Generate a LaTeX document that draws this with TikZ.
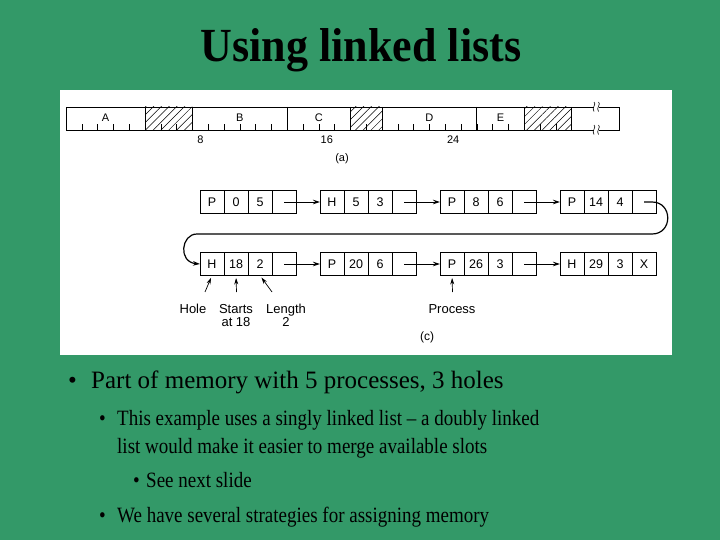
\documentclass[tikz,border=0pt]{standalone}
\usepackage{fontspec}
\usepackage{graphicx}
\setmainfont{Liberation Serif}
\setsansfont{Liberation Sans}
\usetikzlibrary{arrows.meta,patterns.meta}
\definecolor{slidegreen}{RGB}{51,153,104}
\newcommand{\tallsub}[1]{\scalebox{1}[1.15]{\fontsize{19}{19}\selectfont #1}}
\begin{document}
\begin{tikzpicture}[x=1pt,y=-1pt,
  cell/.style={draw, line width=0.9pt, minimum width=24pt, minimum height=23pt, inner sep=0pt, outer sep=0pt, font=\sffamily\fontsize{12.5}{12.5}\selectfont},
  link/.style={line width=0.9pt, -{Stealth[length=7pt,width=4.5pt]}},
  annot/.style={line width=0.7pt, -{Stealth[length=6.5pt,width=4pt]}},
  small/.style={font=\sffamily\fontsize{11}{11}\selectfont, inner sep=0pt},
  lbl/.style={font=\sffamily\fontsize{13}{13.5}\selectfont, inner sep=0pt, align=center},
  hatch/.style={pattern={Lines[angle=45,distance=5.5pt,line width=0.5pt]}},
  bodytext/.style={anchor=base west, inner sep=0pt}
]
\fill[slidegreen] (0,0) rectangle (720,540);
\useasboundingbox (0,0) rectangle (720,540);
\fill[white] (60,90) rectangle (672,355);

% title
\node[anchor=base, inner sep=0pt] (title) at (361,62) {\scalebox{1}[1.08]{\bfseries\fontsize{44}{44}\selectfont Using linked lists}};

% memory bar (a)
\def\u{15.8}
\foreach \s/\e in {5/8,18/20,29/32}{
  \fill[hatch] ({66+\s*\u},107) rectangle ({66+\e*\u},130);
}
\foreach \k in {1,...,31}{
  \draw[line width=0.6pt] ({66+\k*\u},130) -- ({66+\k*\u},124);
}
\draw[line width=0.9pt] (66,107) rectangle (619,130);
\foreach \b in {5,8,14,18,20,26,29,32}{
  \draw[line width=0.9pt] ({66+\b*\u},107) -- ({66+\b*\u},130);
}
\foreach \nm/\s/\e in {A/0/5,B/8/14,C/14/18,D/20/26,E/26/29}{
  \node[small] (seg\nm) at ({66+(\s+\e)/2*\u},117.5) {\nm};
}
\foreach \n in {8,16,24}{
  \node[small] (num\n) at ({66+\n*\u+8},139.5) {\n};
}
\node[small] (capa) at (342,159) {(a)};
% break marks
\foreach \yy in {107,130}{
  \fill[white] (593.5,{\yy-1}) rectangle (598.5,{\yy+1});
  \foreach \xx in {594,598.5}{
    \draw[line width=0.6pt] (\xx,{\yy-5}) .. controls ({\xx+3},{\yy-3}) and ({\xx-3},{\yy+1}) .. (\xx,{\yy+4.5});
  }
}

% linked list (c)
\foreach \row/\yy/\boxes in {1/202/{P/0/5/{}, H/5/3/{}, P/8/6/{}, P/14/4/{}}, 2/264/{H/18/2/{}, P/20/6/{}, P/26/3/{}, H/29/3/X}}{
  \foreach \ta/\tb/\tc/\td [count=\bi] in \boxes{
    \pgfmathsetmacro{\bx}{200+(\bi-1)*120}
    \node[cell] (r\row b\bi c1) at ({\bx+12},\yy) {\ta};
    \node[cell] (r\row b\bi c2) at ({\bx+36},\yy) {\tb};
    \node[cell] (r\row b\bi c3) at ({\bx+60},\yy) {\tc};
    \node[cell] (r\row b\bi c4) at ({\bx+84},\yy) {\td};
  }
}
\foreach \row in {1,2}{
  \foreach \a/\b in {1/2,2/3,3/4}{
    \draw[link] (r\row b\a c4.center) -- (r\row b\b c1.west);
  }
}
\draw[link, line width=1.2pt] (r1b4c4.center) -- (652,202) .. controls (673,202) and (673,234) .. (652,234)
  -- (197,234) .. controls (181,234) and (178,262) .. (r2b1c1.west);

% annotations
\node[lbl, anchor=base] (hole) at (193,313) {Hole};
\node[lbl, anchor=base] (starts) at (236,326.5) {Starts\\at 18};
\node[lbl, anchor=base] (length) at (286,326.5) {Length\\2};
\node[lbl, anchor=base] (process) at (452,313) {Process};
\node[small, font=\sffamily\fontsize{12}{12}\selectfont] (capc) at (427,337.5) {(c)};
\coordinate (holetail) at (205,292);
\coordinate (startstail) at (236.5,292);
\coordinate (lengthtail) at (272,292);
\coordinate (processtail) at (452.5,292);
\draw[annot, shorten >=2.5pt] (holetail) -- (r2b1c1.south);
\draw[annot, shorten >=2.5pt] (startstail) -- (r2b1c2.south);
\draw[annot, shorten >=2.5pt] (lengthtail) -- (r2b1c3.south);
\draw[annot, shorten >=2.5pt] (processtail) -- (r2b3c1.south);

% bullets
\node[bodytext, font=\fontsize{25}{25}\selectfont] (b1dot) at (68,388) {\textbullet};
\node[bodytext, font=\fontsize{25}{25}\selectfont] (b1) at (91,388) {Part of memory with 5 processes, 3 holes};
\node[bodytext] (b2dot) at (99,425) {\tallsub{\textbullet}};
\node[bodytext] (b2) at (117,425) {\tallsub{This example uses a singly linked list – a doubly linked}};
\node[bodytext] (b2b) at (117,453) {\tallsub{list would make it easier to merge available slots}};
\node[bodytext] (b3dot) at (133,487) {\tallsub{\textbullet}};
\node[bodytext] (b3) at (146,487) {\tallsub{See next slide}};
\node[bodytext] (b4dot) at (99,522) {\tallsub{\textbullet}};
\node[bodytext] (b4) at (117,522) {\tallsub{We have several strategies for assigning memory}};
\end{tikzpicture}
\end{document}
